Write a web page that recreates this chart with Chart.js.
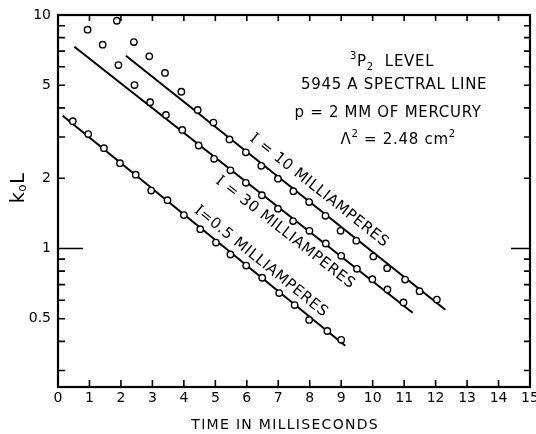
<!DOCTYPE html>
<html>
<head>
<meta charset="utf-8">
<script src="https://cdn.jsdelivr.net/npm/chart.js@4/dist/chart.umd.min.js"></script>
<style>
  html, body { margin: 0; padding: 0; background: #fff; }
  #wrap { width: 536px; height: 434px; }
</style>
</head>
<body>
<div id="wrap"><canvas id="c" width="536" height="434"></canvas></div>
<script>
// Decay of k0L with time after the discharge, 3P2 level, 5945 A line,
// measured at three discharge currents, with fitted exponential lines.

// Axis ticks
const timeTicks = [0, 1, 2, 3, 4, 5, 6, 7, 8, 9, 10, 11, 12, 13, 14, 15];
const kTickValues = [0.3, 0.4, 0.5, 0.6, 0.7, 0.8, 0.9, 1, 2, 3, 4, 5, 6, 7, 8, 9, 10];
const kLabelValues = [0.5, 1, 2, 5, 10];
const kLabelTexts = ['0.5', '1', '2', '5', '10'];

// I = 10 mA
const time10 = [1.87, 2.41, 2.90, 3.40, 3.92, 4.44, 4.94, 5.45, 5.97, 6.46, 6.99,
                7.48, 7.98, 8.50, 8.98, 9.48, 10.02, 10.46, 11.03, 11.49, 12.04];
const k10 = [9.45, 7.66, 6.65, 5.65, 4.69, 3.92, 3.46, 2.93, 2.58, 2.26, 1.99,
             1.76, 1.58, 1.38, 1.19, 1.08, 0.924, 0.823, 0.736, 0.656, 0.604];
const fitTime10 = [2.16, 12.31];
const fitK10 = [6.69, 0.546];

// I = 30 mA
const time30 = [0.94, 1.42, 1.92, 2.43, 2.93, 3.43, 3.95, 4.47, 4.96, 5.48, 5.97,
                6.48, 6.99, 7.47, 7.99, 8.51, 9.00, 9.50, 9.99, 10.47, 10.98];
const k30 = [8.65, 7.46, 6.10, 5.01, 4.23, 3.73, 3.22, 2.76, 2.42, 2.16, 1.91,
             1.69, 1.48, 1.31, 1.19, 1.05, 0.930, 0.818, 0.738, 0.667, 0.587];
const fitTime30 = [0.52, 11.27];
const fitK30 = [7.31, 0.530];

// I = 0.5 mA
const time05 = [0.47, 0.96, 1.46, 1.97, 2.47, 2.96, 3.48, 4.00, 4.52, 5.02, 5.48,
                5.98, 6.49, 7.03, 7.52, 7.98, 8.56, 9.00];
const k05 = [3.51, 3.09, 2.69, 2.32, 2.07, 1.77, 1.61, 1.39, 1.21, 1.06, 0.942,
             0.845, 0.749, 0.644, 0.572, 0.494, 0.443, 0.406];
const fitTime05 = [0.15, 9.13];
const fitK05 = [3.70, 0.383];

const SANS = '"DejaVu Sans", "Liberation Sans", sans-serif';
const SERIF = '"DejaVu Serif", "Liberation Serif", serif';

const pairs = (xs, ys) => xs.map((x, i) => ({ x: x, y: ys[i] }));

function pointSet(xs, ys) {
  return {
    data: pairs(xs, ys),
    showLine: false,
    pointStyle: 'circle',
    pointRadius: 3.2,
    pointBorderWidth: 1.4,
    pointBorderColor: '#000',
    pointBackgroundColor: '#fff',
    order: 1
  };
}
function fitSet(xs, ys) {
  return {
    type: 'line',
    data: pairs(xs, ys),
    showLine: true,
    borderColor: '#000',
    borderWidth: 2,
    pointRadius: 0,
    fill: false,
    order: 2
  };
}

// Draws a run of text pieces with individual fonts and vertical shifts, centred on (0,0)
function drawPieces(ctx, pieces, spacing) {
  ctx.letterSpacing = spacing + 'px';
  let total = 0;
  const widths = pieces.map(p => {
    ctx.font = p.font;
    const w = ctx.measureText(p.text).width;
    total += w;
    return w;
  });
  let x = -total / 2;
  ctx.textAlign = 'left';
  ctx.textBaseline = 'middle';
  pieces.forEach((p, i) => {
    ctx.font = p.font;
    ctx.fillText(p.text, x, p.dy || 0);
    x += widths[i];
  });
  ctx.letterSpacing = '0px';
}

// Plot frame with inward tick marks on all four sides
const framePlugin = {
  id: 'frame',
  beforeDatasetsDraw(chart) {
    const { ctx, chartArea: a, scales } = chart;
    ctx.save();
    ctx.strokeStyle = '#000';
    ctx.lineWidth = 2.2;
    ctx.strokeRect(a.left, a.top, a.right - a.left, a.bottom - a.top);
    ctx.lineWidth = 1.6;
    ctx.beginPath();
    timeTicks.forEach(t => {
      if (t === 0 || t === 15) return;
      const px = scales.x.getPixelForValue(t);
      ctx.moveTo(px, a.bottom); ctx.lineTo(px, a.bottom - 7);
      ctx.moveTo(px, a.top); ctx.lineTo(px, a.top + 6);
    });
    kTickValues.forEach(v => {
      if (v === 10) return;
      const py = scales.y.getPixelForValue(v);
      const inL = v === 1 ? 25 : 7;
      const inR = v === 1 ? 19 : 6;
      ctx.moveTo(a.left, py); ctx.lineTo(a.left + inL, py);
      ctx.moveTo(a.right, py); ctx.lineTo(a.right - inR, py);
    });
    ctx.stroke();
    ctx.restore();
  }
};

// Text notes, current labels along the fitted lines, and axis titles
const textPlugin = {
  id: 'notes',
  afterDraw(chart) {
    const { ctx, scales } = chart;
    const X = v => scales.x.getPixelForValue(v);
    const Y = v => scales.y.getPixelForValue(v);
    ctx.save();
    ctx.fillStyle = '#000';

    const f15 = '15px ' + SANS;
    const f10 = '10px ' + SANS;
    const notes = [
      { t: 10.62, k: 6.29, pieces: [
        { text: '3', font: f10, dy: -6 },
        { text: 'P', font: f15 },
        { text: '2', font: f10, dy: 5 },
        { text: '  LEVEL', font: f15 }] },
      { t: 10.68, k: 5.0, pieces: [{ text: '5945 A SPECTRAL LINE', font: f15 }] },
      { t: 10.49, k: 3.80, pieces: [{ text: 'p = 2 MM OF MERCURY', font: f15 }] },
      { t: 10.81, k: 2.91, pieces: [
        { text: 'Λ', font: f15 },
        { text: '2', font: f10, dy: -6 },
        { text: ' = 2.48 cm', font: f15 },
        { text: '2', font: f10, dy: -6 }] }
    ];
    notes.forEach(n => {
      ctx.save();
      ctx.translate(X(n.t), Y(n.k));
      drawPieces(ctx, n.pieces, 0.7);
      ctx.restore();
    });

    // labels running along each fitted line
    const lineLabels = [
      { t: 8.30, k: 1.77, ft: fitTime10, fk: fitK10, rest: ' = 10 MILLIAMPERES' },
      { t: 7.22, k: 1.17, ft: fitTime30, fk: fitK30, rest: ' = 30 MILLIAMPERES' },
      { t: 6.45, k: 0.879, ft: fitTime05, fk: fitK05, rest: '=0.5 MILLIAMPERES' }
    ];
    lineLabels.forEach(l => {
      const dx = X(l.ft[1]) - X(l.ft[0]);
      const dy = Y(l.fk[1]) - Y(l.fk[0]);
      ctx.save();
      ctx.translate(X(l.t), Y(l.k));
      ctx.rotate(Math.atan2(dy, dx));
      drawPieces(ctx, [
        { text: 'I', font: '15px ' + SERIF },
        { text: l.rest, font: f15 }], 0.6);
      ctx.restore();
    });

    // x axis title
    ctx.save();
    ctx.translate(X(7.22), 425);
    drawPieces(ctx, [{ text: 'TIME IN MILLISECONDS', font: '14px ' + SANS }], 1.3);
    ctx.restore();

    // y axis title
    ctx.save();
    ctx.translate(19, 188);
    ctx.rotate(-Math.PI / 2);
    drawPieces(ctx, [
      { text: 'k', font: '19px ' + SANS },
      { text: 'o', font: '12px ' + SANS, dy: 4 },
      { text: 'L', font: '19px ' + SANS }], 0.5);
    ctx.restore();

    ctx.restore();
  }
};

const tickFont = { family: SANS, size: 14 };

// keep the plot box fixed: no extra room reserved for overhanging tick labels
function noOverhang(s) {
  s.paddingLeft = 0; s.paddingRight = 0; s.paddingTop = 0; s.paddingBottom = 0;
}

new Chart(document.getElementById('c'), {
  type: 'scatter',
  data: {
    datasets: [
      pointSet(time10, k10),
      pointSet(time30, k30),
      pointSet(time05, k05),
      fitSet(fitTime10, fitK10),
      fitSet(fitTime30, fitK30),
      fitSet(fitTime05, fitK05)
    ]
  },
  options: {
    responsive: false,
    animation: false,
    devicePixelRatio: 1,
    layout: { padding: { top: 15, right: 6, left: 0, bottom: 0 }, autoPadding: false },
    plugins: { legend: { display: false }, tooltip: { enabled: false } },
    scales: {
      x: {
        type: 'linear',
        min: 0,
        max: 15,
        afterBuildTicks: s => { s.ticks = timeTicks.map(v => ({ value: v })); },
        afterFit: s => { s.height = 47; noOverhang(s); },
        grid: { display: false, drawTicks: false },
        border: { display: false },
        ticks: {
          font: tickFont, color: '#000', padding: 3,
          maxRotation: 0, autoSkip: false,
          callback: v => String(v)
        }
      },
      y: {
        type: 'logarithmic',
        min: 0.255,
        max: 10,
        afterBuildTicks: s => { s.ticks = kTickValues.map(v => ({ value: v })); },
        afterFit: s => { s.width = 58; noOverhang(s); },
        grid: { display: false, drawTicks: false },
        border: { display: false },
        ticks: {
          font: tickFont, color: '#000', padding: 7, autoSkip: false,
          callback: v => {
            const i = kLabelValues.indexOf(v);
            return i >= 0 ? kLabelTexts[i] : '';
          }
        }
      }
    }
  },
  plugins: [framePlugin, textPlugin]
});
</script>
</body>
</html>
